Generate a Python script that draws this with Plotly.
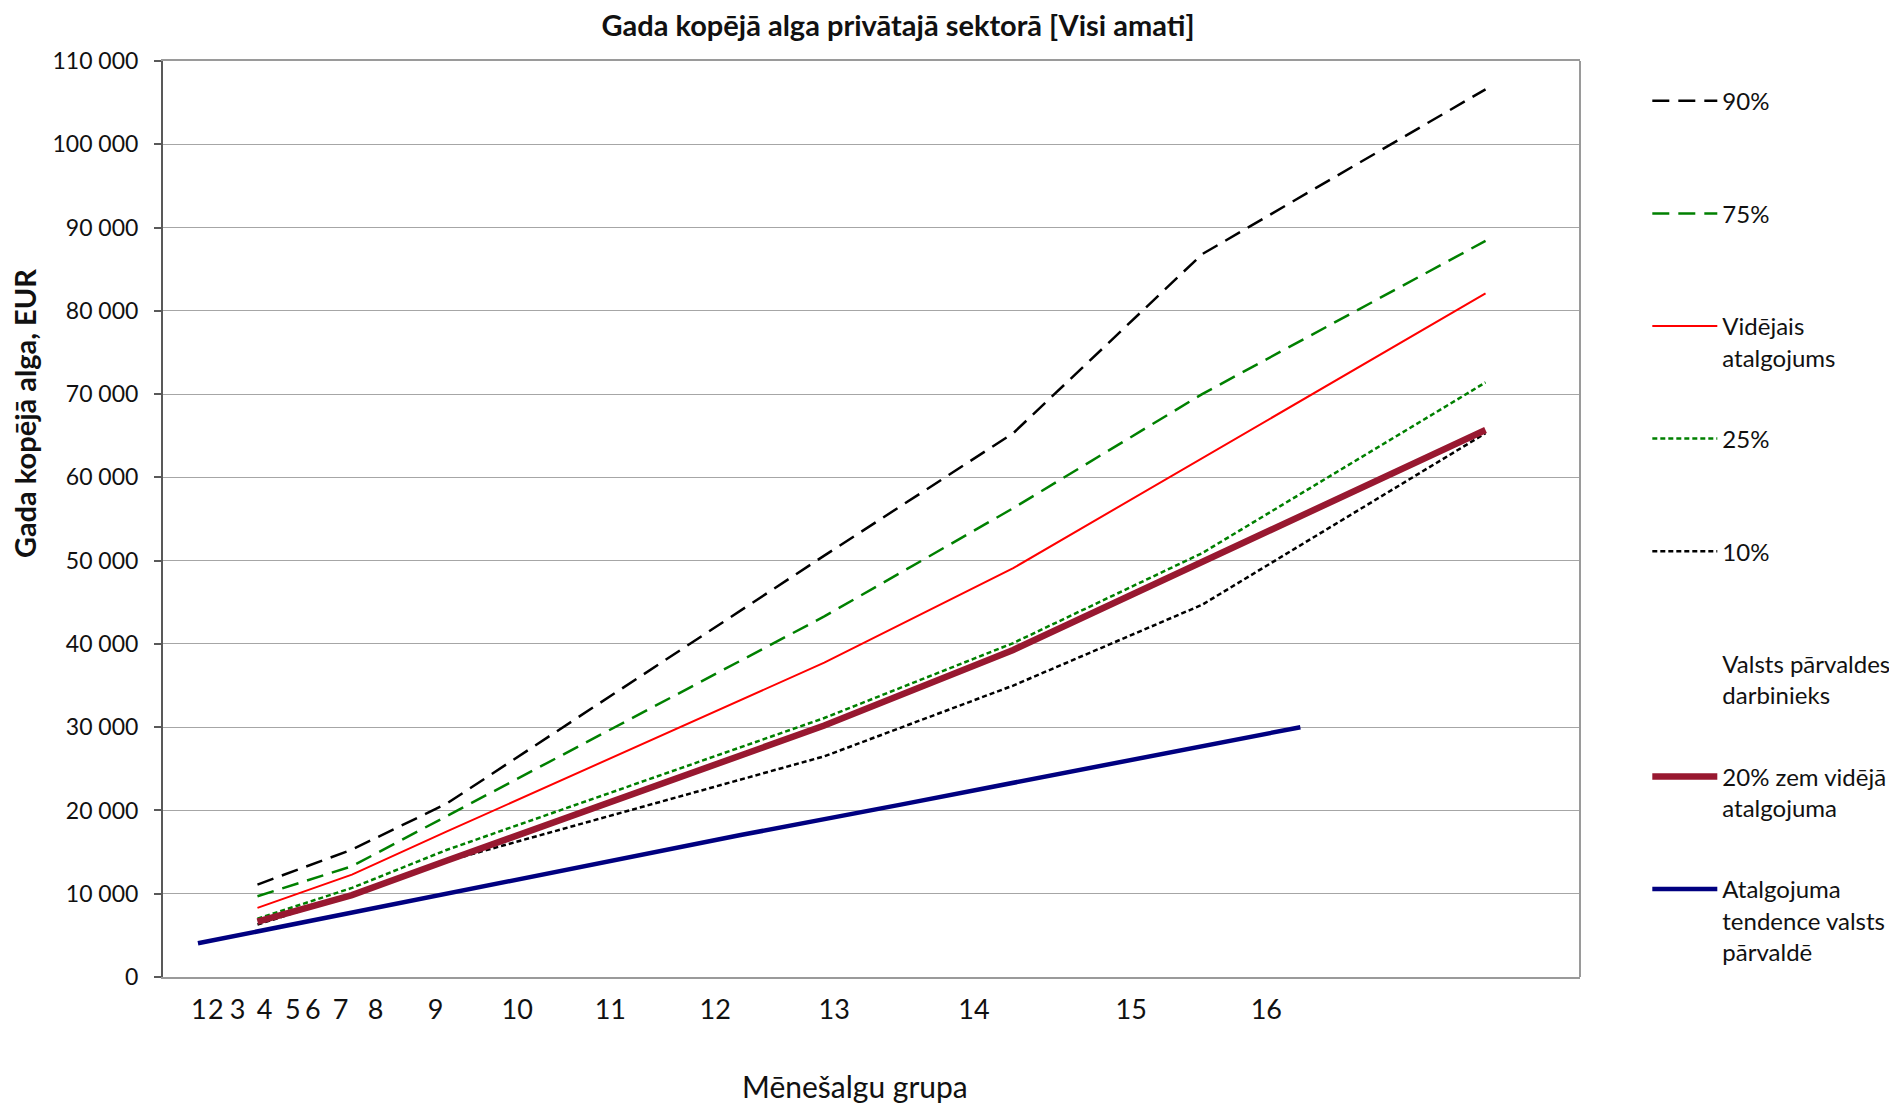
import plotly.graph_objects as go

# Monthly salary points (EUR) at which the private-sector curves are given
salary_points = [400, 600, 800, 1600, 2000, 2400, 3000]
p90 = [11100, 15300, 20800, 50600, 65300, 86800, 106600]
p75 = [9700, 13300, 19300, 43300, 56300, 70000, 88400]
mean_pay = [8300, 12300, 17450, 37750, 49100, 62300, 82100]
p25 = [7000, 10700, 15250, 31100, 40100, 50900, 71400]
p10 = [6300, 9900, 13900, 26500, 35000, 44700, 65300]
below20 = [6640, 9840, 13960, 30200, 39280, 49840, 65680]

# Public administration pay trend
trend_x = [274, 915, 1423, 1762, 2608]
trend_y = [4050, 11300, 17050, 20700, 30000]

# Salary group labels and where they sit on the salary axis
group_labels = [str(i) for i in range(1, 17)]
group_pos = [276, 312, 358, 415, 475, 517, 576, 650, 777, 950, 1147, 1369, 1621, 1917, 2250, 2536]

y_ticks = list(range(0, 110001, 10000))

FONT = "Lato"
PAD = "<br>\u00a0"


def pad(name, lines):
    return name + PAD * (3 - lines)


series = [
    ("90%", 1, salary_points, p90, dict(color="#000000", width=2.5, dash="17px,9px")),
    ("75%", 1, salary_points, p75, dict(color="#008000", width=2.5, dash="17px,9px")),
    ("Vidējais<br>atalgojums", 2, salary_points, mean_pay, dict(color="#ff0000", width=2)),
    ("25%", 1, salary_points, p25, dict(color="#008000", width=2.5, dash="5px,3px")),
    ("10%", 1, salary_points, p10, dict(color="#000000", width=2.5, dash="5px,3px")),
    ("Valsts pārvaldes<br>darbinieks", 2, [None], [None], dict(color="rgba(0,0,0,0)", width=2)),
    ("20% zem vidējā<br>atalgojuma", 2, salary_points, below20, dict(color="#981830", width=6.5)),
    ("Atalgojuma<br>tendence valsts<br>pārvaldē", 3, trend_x, trend_y, dict(color="#000080", width=4.5)),
]

fig = go.Figure()
for i, (name, nlines, xs, ys, line) in enumerate(series):
    fig.add_trace(go.Scatter(x=xs, y=ys, mode="lines", name=pad(name, nlines),
                             legendgroup="g%d" % i, line=line))

# page offset of 8px (body margin) taken into account
L, R, T, B = 155, 1572, 52.5, 969.5
W, H = 1889, 1098

fig.update_layout(
    width=W, height=H,
    margin=dict(l=L, r=W - R, t=T, b=H - B, autoexpand=False),
    paper_bgcolor="white", plot_bgcolor="white",
    font=dict(family=FONT, color="#111111"),
    separators=". ",
    title=dict(text="<b>Gada kopējā alga privātajā sektorā [Visi amati]</b>",
               x=890 / W, xref="container", xanchor="center",
               y=1 - 18 / H, yref="container", yanchor="middle",
               font=dict(size=29, family=FONT, color="#111111")),
    showlegend=True,
    legend=dict(x=1.0475, xanchor="left", y=0.9807, yanchor="top",
                itemwidth=65, valign="top", tracegroupgap=16,
                font=dict(size=24, family=FONT, color="#111111"),
                bgcolor="rgba(0,0,0,0)", itemclick=False),
    xaxis=dict(range=[200, 3200], showgrid=False, zeroline=False,
               tickmode="array", tickvals=group_pos, ticktext=group_labels,
               ticks="", tickangle=0, tickfont=dict(size=27, family=FONT, color="#111111"),
               ticklabelstandoff=8,
               showline=True, mirror=True, linecolor="#9a9a9a", linewidth=2),
    yaxis=dict(range=[0, 110000], tickmode="array", tickvals=y_ticks,
               tickformat=",d", showgrid=True, gridcolor="#a6a6a6", gridwidth=1.3,
               zeroline=False, showline=True, linecolor="#595959", linewidth=2,
               ticks="outside", ticklen=7, tickwidth=2, tickcolor="#595959",
               ticklabelstandoff=11,
               tickfont=dict(size=23, family=FONT, color="#111111")),
    annotations=[
        dict(text="<b>Gada kopējā alga, EUR</b>", textangle=-90,
             xref="paper", yref="paper", x=(16 - L) / (R - L), y=(B - 406) / (B - T),
             xanchor="center", yanchor="middle", showarrow=False,
             font=dict(size=29, family=FONT, color="#111111")),
        dict(text="Mēnešalgu grupa",
             xref="paper", yref="paper", x=(847 - L) / (R - L), y=(B - 1079) / (B - T),
             xanchor="center", yanchor="middle", showarrow=False,
             font=dict(size=30, family=FONT, color="#111111")),
    ],
    shapes=[dict(type="line", xref="x domain", yref="y domain", x0=1, x1=1, y0=0, y1=1,
                 line=dict(color="#9a9a9a", width=2))],
)

fig.write_html("out.html")
